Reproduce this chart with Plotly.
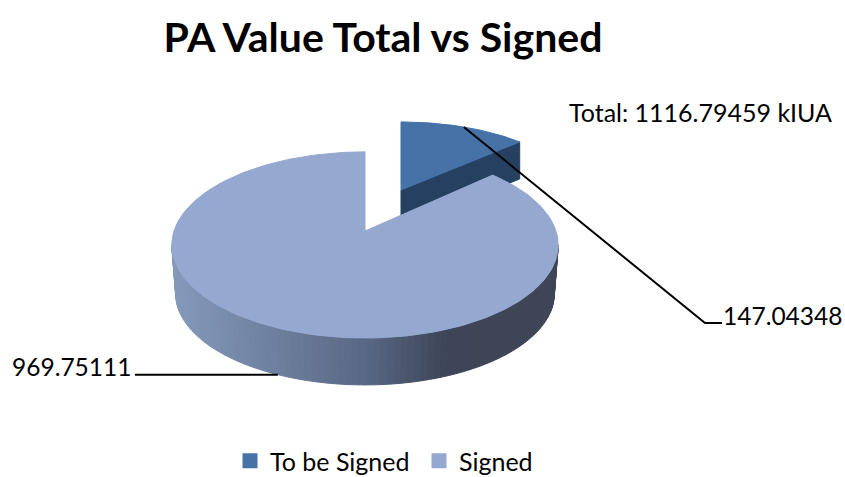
import numpy as np
import plotly.graph_objects as go

# --- data ---
categories = ["To be Signed", "Signed"]
values = [147.04348, 969.75111]
unit = "kIUA"

# --- style ---
TOP_COLORS = ["#4672A8", "#95A9D0"]
CUT_COLOR = "#254061"
FONT = "Lato, Carlito, 'Open Sans', sans-serif"
W, H = 845, 477

# projection of the tilted pie (pixels on the page-sized axes)
R, TILT, PERSP = 191.0, 91.0, 0.15
BIG = dict(cx=365.0, cy=231.0, sx=1.0, sy=1.0)
SMALL = dict(cx=401.0, cy=190.0, sx=0.93, sy=0.86)
DEPTH_BIG, RING_BIG = 49.0, 0.98
DEPTH_SMALL = 37.0


def project(theta_deg, g, ring=1.0, drop=0.0):
    t = np.radians(theta_deg)
    s = 1.0 / (1.0 + PERSP * np.cos(t))
    x = g["cx"] + ring * g["sx"] * R * np.sin(t) * s
    y = g["cy"] - ring * g["sy"] * TILT * np.cos(t) * s + drop
    return x, y


total = sum(values)
split = values[0] / total * 360.0
mid_small = split / 2
mid_big = split + (360.0 - split) / 2

fig = go.Figure()


def poly(xs, ys, color, line=None):
    fig.add_trace(go.Scatter(
        x=list(xs), y=list(ys), mode="lines", fill="toself", fillcolor=color,
        line=dict(color=line or color, width=1), hoverinfo="skip", showlegend=False))


# small slice: cut face, then top
ax = SMALL["cx"]; ay = SMALL["cy"]
ex, ey = project(split, SMALL)
poly([ax, ex, ex, ax, ax], [ay, ey, ey + DEPTH_SMALL, ay + DEPTH_SMALL, ay], CUT_COLOR)
arc = np.linspace(0, split, 40)
px, py = project(arc, SMALL)
poly(np.r_[ax, px, ax], np.r_[ay, py, ay], TOP_COLORS[0])


# big slice: shaded wall
def wall_color(x):
    stops_x = [170, 290, 370, 445, 560]
    r = np.interp(x, stops_x, [0x84, 0x6A, 0x57, 0x3E, 0x3D])
    g = np.interp(x, stops_x, [0x9A, 0x7B, 0x66, 0x45, 0x45])
    b = np.interp(x, stops_x, [0xBC, 0x9A, 0x82, 0x58, 0x56])
    return f"rgb({r:.0f},{g:.0f},{b:.0f})"


edge = np.degrees(np.arccos(-PERSP))
steps = np.linspace(edge, 360 - edge, 91)
for a, b in zip(steps[:-1], steps[1:]):
    x1, y1 = project(a, BIG)
    x2, y2 = project(b, BIG)
    x3, y3 = project(b, BIG, RING_BIG, DEPTH_BIG)
    x4, y4 = project(a, BIG, RING_BIG, DEPTH_BIG)
    poly([x1, x2, x3, x4, x1], [y1, y2, y3, y4, y1], wall_color((x1 + x2) / 2))

# big slice: top
arc = np.linspace(split, 360, 240)
px, py = project(arc, BIG)
poly(np.r_[BIG["cx"], px, BIG["cx"]], np.r_[BIG["cy"], py, BIG["cy"]], TOP_COLORS[1])

# leader lines
sx, sy = project(mid_small, SMALL)
fig.add_trace(go.Scatter(x=[sx, 705, 722], y=[sy, 323, 323], mode="lines",
                         line=dict(color="black", width=2), hoverinfo="skip", showlegend=False))
bx, by = project(mid_big, BIG, RING_BIG, DEPTH_BIG)
fig.add_trace(go.Scatter(x=[135, bx], y=[by, by], mode="lines",
                         line=dict(color="black", width=2), hoverinfo="skip", showlegend=False))

# legend entries
for name, col in zip(categories, TOP_COLORS):
    fig.add_trace(go.Scatter(x=[None], y=[None], mode="markers", name=name,
                             marker=dict(symbol="square", size=15, color=col)))


def label(x, y, text, anchor="left", size=25):
    fig.add_annotation(x=x, y=y, xref="x", yref="y", text=text, showarrow=False,
                       xanchor=anchor, yanchor="middle",
                       font=dict(family=FONT, size=size, color="black"))


label(721, 315, f"{values[0]:.5f}", size=24.5)
label(133, 366, f"{values[1]:.5f}", "right", size=24.5)
label(567, 112, f"Total: {total:.5f} {unit}")

fig.update_layout(
    width=W, height=H, autosize=False,
    margin=dict(l=0, r=0, t=0, b=0, autoexpand=False),
    paper_bgcolor="white", plot_bgcolor="white",
    xaxis=dict(range=[0, W], visible=False, fixedrange=True),
    yaxis=dict(range=[H, 0], visible=False, fixedrange=True),
    title=dict(text="<b>PA Value Total vs Signed</b>", x=383 / W, xanchor="center",
               y=1 - 38 / H, yanchor="middle",
               font=dict(family=FONT, size=41, color="black")),
    legend=dict(orientation="h", x=230 / W, xanchor="left", y=1 - 461 / H, yanchor="middle",
                font=dict(family=FONT, size=25, color="black"),
                entrywidth=144, entrywidthmode="pixels",
                bgcolor="rgba(0,0,0,0)", itemclick=False, itemdoubleclick=False),
    showlegend=True,
)

fig.write_html("out.html", config={"displayModeBar": False},
               post_script="document.body.style.margin='0';")
